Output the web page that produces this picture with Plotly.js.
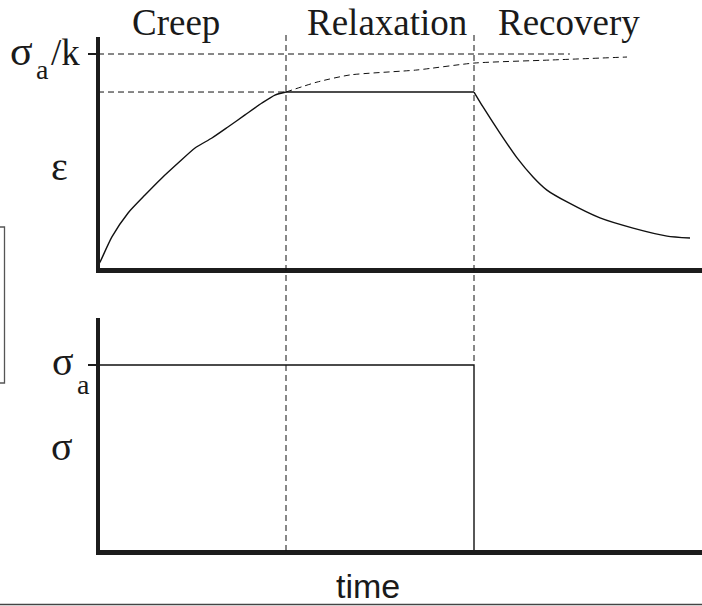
<!DOCTYPE html>
<html>
<head>
<meta charset="utf-8">
<script src="https://cdn.plot.ly/plotly-3.0.1.min.js"></script>
<style>html,body{margin:0;padding:0;background:#fff;}#chart{width:702px;height:606px;}</style>
</head>
<body>
<div id="chart"></div>
<script>
// ---- data (time in stage units, strain in units of sigma_a/k, stress in units of sigma_a) ----
var phaseNames = ["Creep", "Relaxation", "Recovery"];
var phaseLabelT = [0.415, 1.537, 2.505];
var phaseBoundaries = [1, 2];

var creepT = [0.0, 0.011, 0.074, 0.160, 0.250, 0.340, 0.426, 0.516, 0.606, 0.691, 0.782, 0.872, 0.941, 1.0];
var creepE = [0.02, 0.037, 0.153, 0.264, 0.347, 0.426, 0.495, 0.565, 0.611, 0.662, 0.718, 0.773, 0.810, 0.824];
var relaxT = [1.0, 2.0];
var relaxE = [0.824, 0.824];
var recovT = [2.0, 2.048, 2.138, 2.229, 2.314, 2.388, 2.495, 2.670, 2.846, 3.027, 3.149];
var recovE = [0.824, 0.755, 0.634, 0.519, 0.431, 0.370, 0.315, 0.241, 0.194, 0.157, 0.148];

var asympT = [1.0, 1.165, 1.340, 1.697, 2.0, 2.404, 2.814];
var asympE = [0.824, 0.870, 0.903, 0.926, 0.958, 0.972, 0.986];

var limitLevel = 1.0;      // sigma_a / k
var limitEndT = 2.51;
var plateauLevel = 0.824;

var stressT = [0.0, 2.0, 2.0];
var stressS = [1.0, 1.0, 0.0];

// ---- layout helpers ----
var W = 702, H = 606;
function PX(x) { return x / W; }
function PY(y) { return 1 - y / H; }

var lineCol = "#111";
var axCol = "#1c1c1c";
var dashStyle = "6px,4px";

var traces = [
  {x: creepT, y: creepE, xaxis: "x", yaxis: "y", mode: "lines",
   line: {color: lineCol, width: 1.4, shape: "spline", smoothing: 0.6}, hoverinfo: "skip"},
  {x: relaxT, y: relaxE, xaxis: "x", yaxis: "y", mode: "lines",
   line: {color: lineCol, width: 1.4}, hoverinfo: "skip"},
  {x: recovT, y: recovE, xaxis: "x", yaxis: "y", mode: "lines",
   line: {color: lineCol, width: 1.4, shape: "spline", smoothing: 0.6}, hoverinfo: "skip"},
  {x: asympT, y: asympE, xaxis: "x", yaxis: "y", mode: "lines",
   line: {color: lineCol, width: 1, dash: dashStyle, shape: "spline", smoothing: 0.6}, hoverinfo: "skip"},
  {x: stressT, y: stressS, xaxis: "x2", yaxis: "y2", mode: "lines",
   line: {color: lineCol, width: 1.4}, hoverinfo: "skip"}
];

var xRange = [2/188, 604/188];
var axisCommon = {showline: true, linewidth: 4.5, linecolor: axCol, showgrid: false,
  zeroline: false, showticklabels: false, fixedrange: true};

var shapes = [
  {type: "line", xref: "x", yref: "y", x0: 0, x1: limitEndT, y0: limitLevel, y1: limitLevel,
   line: {color: lineCol, width: 1, dash: dashStyle}},
  {type: "line", xref: "x", yref: "y", x0: 0, x1: phaseBoundaries[0], y0: plateauLevel, y1: plateauLevel,
   line: {color: lineCol, width: 1, dash: dashStyle}},
  {type: "line", xref: "x", yref: "paper", x0: phaseBoundaries[0], x1: phaseBoundaries[0], y0: PY(35), y1: PY(551),
   line: {color: lineCol, width: 1, dash: dashStyle}},
  {type: "line", xref: "x", yref: "paper", x0: phaseBoundaries[1], x1: phaseBoundaries[1], y0: PY(35), y1: PY(365),
   line: {color: lineCol, width: 1, dash: dashStyle}},
  {type: "rect", xref: "paper", yref: "paper", x0: PX(-2), x1: PX(4.5), y0: PY(227), y1: PY(383),
   line: {color: "#555", width: 1.3}},
  {type: "line", xref: "paper", yref: "paper", x0: 0, x1: 1, y0: PY(604.5), y1: PY(604.5),
   line: {color: "#444", width: 1.5}}
];

var serif = "Liberation Serif, Times New Roman, serif";
function ann(text, x, y, size, xanchor, fam) {
  return {text: text, xref: "paper", yref: "paper", x: PX(x), y: PY(y), xanchor: xanchor || "center", yanchor: "middle",
    showarrow: false, borderpad: 0, font: {family: fam || serif, size: size, color: "#1a1a1a"}};
}

var annotations = [];
for (var i = 0; i < phaseNames.length; i++) {
  var a = ann(phaseNames[i], 0, 23, 37);
  a.xref = "x"; a.x = phaseLabelT[i];
  annotations.push(a);
}
// sigma_a / k
annotations.push(ann("σ", 34, 51, 42, "right"));
annotations.push(ann("a", 35, 69, 28, "left"));
annotations.push(ann("/k", 65, 52, 37));
// epsilon
annotations.push(ann("ε", 59, 166, 40));
// sigma_a
annotations.push(ann("σ", 75, 361, 40, "right"));
annotations.push(ann("a", 76, 384, 28, "left"));
// sigma
annotations.push(ann("σ", 62, 446, 40));
annotations.push(ann("time", 368, 586, 34, "center", "Liberation Sans, Arial, sans-serif"));

var layout = {
  width: W, height: H,
  margin: {l: 0, r: 0, t: 0, b: 0},
  paper_bgcolor: "#fff", plot_bgcolor: "#fff",
  showlegend: false,
  xaxis: Object.assign({}, axisCommon, {domain: [PX(100), 1], range: xRange, anchor: "y", ticks: ""}),
  yaxis: Object.assign({}, axisCommon, {domain: [PY(268), PY(37)], range: [2/216, 233/216], anchor: "x",
    ticks: "outside", tickvals: [limitLevel], ticklen: 8, tickwidth: 1.5, tickcolor: axCol}),
  xaxis2: Object.assign({}, axisCommon, {domain: [PX(100), 1], range: xRange, anchor: "y2", ticks: ""}),
  yaxis2: Object.assign({}, axisCommon, {domain: [PY(550), PY(318)], range: [2.5/187.5, 234.5/187.5], anchor: "x2",
    ticks: "outside", tickvals: [1], ticklen: 8, tickwidth: 1.5, tickcolor: axCol}),
  shapes: shapes,
  annotations: annotations
};

Plotly.newPlot("chart", traces, layout, {staticPlot: true, displayModeBar: false});
</script>
</body>
</html>
